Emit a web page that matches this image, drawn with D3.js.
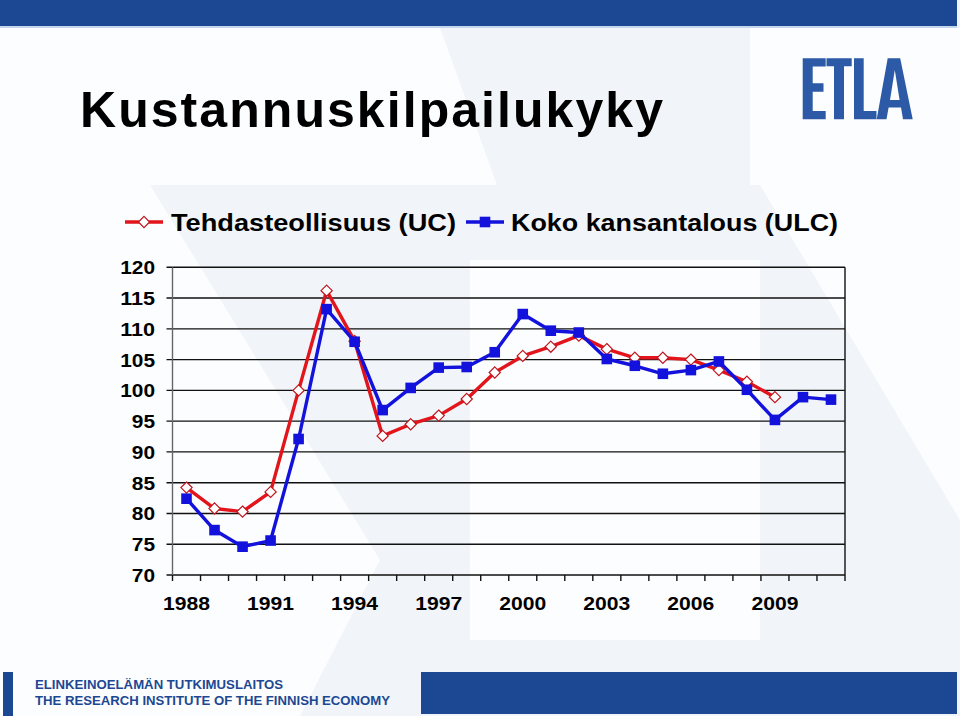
<!DOCTYPE html>
<html>
<head>
<meta charset="utf-8">
<script src="https://cdn.jsdelivr.net/npm/d3@7"></script>
<style>
  html, body { margin: 0; padding: 0; background: #ffffff; }
  svg { display: block; }
  text { font-family: "Liberation Sans", Arial, sans-serif; }
</style>
</head>
<body>
<svg id="chart" width="960" height="716"></svg>
<script>
// ---------- data ----------
const years = ["1988","1989","1990","1991","1992","1993","1994","1995","1996","1997","1998","1999",
               "2000","2001","2002","2003","2004","2005","2006","2007","2008","2009","2010","2011"];
const tehdasteollisuus = [84.2, 80.8, 80.3, 83.5, 100.0, 116.2, 108.0, 92.6, 94.5, 95.9, 98.6, 102.9,
                          105.6, 107.1, 108.9, 106.7, 105.3, 105.3, 105.0, 103.3, 101.4, 98.9, null, null];
const kokoKansantalous = [82.4, 77.3, 74.6, 75.6, 92.1, 113.2, 107.9, 96.8, 100.4, 103.7, 103.8, 106.2,
                          112.4, 109.7, 109.4, 105.1, 104.0, 102.7, 103.3, 104.7, 100.1, 95.2, 98.9, 98.5];
const xTickLabels = ["1988","1991","1994","1997","2000","2003","2006","2009"];
const yTickValues = [70, 75, 80, 85, 90, 95, 100, 105, 110, 115, 120];
const seriesNames = ["Tehdasteollisuus (UC)", "Koko kansantalous (ULC)"];
const titleText = "Kustannuskilpailukyky";
const footerLines = ["ELINKEINOELÄMÄN TUTKIMUSLAITOS", "THE RESEARCH INSTITUTE OF THE FINNISH ECONOMY"];

// ---------- styles ----------
const RED = "#e2141c", RED_DARK = "#c0141c", BLUE = "#1212dc", BANNER = "#1c4893", LOGO = "#2c5aa6";

const svg = d3.select("#chart");

// ---------- background ----------
svg.append("rect").attr("width", 960).attr("height", 716).attr("fill", "#f1f4f8");
const bgWhite = [
  [[0,28],[440,28],[497,185],[0,185]],
  [[750,28],[960,28],[960,185],[750,185]],
  [[0,185],[150,185],[380,560],[300,716],[0,716],[0,420],[0,185]],
  [[0,420],[0,716],[170,716]],
  [[470,260],[760,260],[760,640],[470,640]],
  [[960,185],[960,520],[760,185]]
];
svg.selectAll("polygon.bg").data(bgWhite).join("polygon")
  .attr("class", "bg")
  .attr("points", d => d.map(p => p.join(",")).join(" "))
  .attr("fill", "#fcfdfe");

// top banner
svg.append("rect").attr("x", 0).attr("y", 0).attr("width", 957).attr("height", 26).attr("fill", BANNER);
svg.append("rect").attr("x", 0).attr("y", 26).attr("width", 957).attr("height", 2).attr("fill", "#c4d6ee");

// ---------- title ----------
svg.append("text")
  .attr("x", 80).attr("y", 127)
  .attr("font-size", 50).attr("font-weight", "bold").attr("fill", "#000")
  .attr("textLength", 583).attr("lengthAdjust", "spacing")
  .text(titleText);

// ---------- ETLA logo ----------
const logo = svg.append("g").attr("fill", LOGO);
// E
logo.append("path").attr("d",
  "M802.7,58.3 H825.7 V66.5 H812.7 V83.3 H823.5 V91.7 H812.7 V111 H825.7 V119.3 H802.7 Z");
// T
logo.append("path").attr("d",
  "M826.5,58.3 H851.7 V66.3 H844 V119.3 H834 V66.3 H826.5 Z");
// L
logo.append("path").attr("d",
  "M854,58.3 H863.7 V111 H876.5 V119.3 H854 Z");
// A
logo.append("path").attr("fill-rule", "evenodd").attr("d",
  "M876.7,119.3 L887.7,58.3 H900.2 L912.7,119.3 H903 L901,107.5 H888.6 L886.5,119.3 Z " +
  "M890,100 H899.6 L894.8,70 Z");

// ---------- scales ----------
const margin = { left: 172.5, right: 845, top: 267.3, bottom: 575 };
const x = d3.scaleBand().domain(years).range([margin.left, margin.right]).paddingInner(0).paddingOuter(0);
const y = d3.scaleLinear().domain([70, 120]).range([margin.bottom, margin.top]);
const cx = d => x(d) + x.bandwidth() / 2;

// ---------- grid & axes ----------
const plot = svg.append("g");
plot.selectAll("line.grid").data(yTickValues).join("line")
  .attr("class", "grid")
  .attr("x1", margin.left - 6).attr("x2", margin.right)
  .attr("y1", d => y(d)).attr("y2", d => y(d))
  .attr("stroke", "#111").attr("stroke-width", 1.4);
// left axis
plot.append("line")
  .attr("x1", margin.left).attr("x2", margin.left)
  .attr("y1", margin.top).attr("y2", margin.bottom)
  .attr("stroke", "#666").attr("stroke-width", 1.4);
// right border
plot.append("line")
  .attr("x1", margin.right).attr("x2", margin.right)
  .attr("y1", margin.top).attr("y2", margin.bottom + 6)
  .attr("stroke", "#111").attr("stroke-width", 1.4);
// x tick marks at category boundaries
const boundaries = years.map(d => x(d));
plot.selectAll("line.xtick").data(boundaries).join("line")
  .attr("class", "xtick")
  .attr("x1", d => d).attr("x2", d => d)
  .attr("y1", margin.bottom).attr("y2", margin.bottom + 6)
  .attr("stroke", "#111").attr("stroke-width", 1.4);

// y labels
plot.selectAll("text.ylab").data(yTickValues).join("text")
  .attr("class", "ylab")
  .attr("x", 155).attr("y", d => y(d) + 7)
  .attr("text-anchor", "end")
  .attr("font-size", 19).attr("font-weight", "bold").attr("fill", "#000")
  .attr("textLength", d => String(d).length * 11.6).attr("lengthAdjust", "spacingAndGlyphs")
  .text(d => d);

// x labels
plot.selectAll("text.xlab").data(xTickLabels).join("text")
  .attr("class", "xlab")
  .attr("x", d => cx(d)).attr("y", 610)
  .attr("text-anchor", "middle")
  .attr("font-size", 19).attr("font-weight", "bold").attr("fill", "#000")
  .attr("textLength", 47).attr("lengthAdjust", "spacingAndGlyphs")
  .text(d => d);

// ---------- series ----------
const redData = years.map((yr, i) => ({ yr, v: tehdasteollisuus[i] })).filter(d => d.v != null);
const blueData = years.map((yr, i) => ({ yr, v: kokoKansantalous[i] })).filter(d => d.v != null);
const line = d3.line().x(d => cx(d.yr)).y(d => y(d.v));

const diamond = (px, py, r) => `M${px},${py - r} L${px + r},${py} L${px},${py + r} L${px - r},${py} Z`;

plot.append("path").datum(redData)
  .attr("d", line).attr("fill", "none").attr("stroke", RED)
  .attr("stroke-width", 3.4).attr("stroke-linejoin", "round");
plot.selectAll("path.rmark").data(redData).join("path")
  .attr("class", "rmark")
  .attr("d", d => diamond(cx(d.yr), y(d.v), 5.6))
  .attr("fill", "#fff").attr("stroke", RED_DARK).attr("stroke-width", 1.2);

plot.append("path").datum(blueData)
  .attr("d", line).attr("fill", "none").attr("stroke", BLUE)
  .attr("stroke-width", 3.4).attr("stroke-linejoin", "round");
plot.selectAll("rect.bmark").data(blueData).join("rect")
  .attr("class", "bmark")
  .attr("x", d => cx(d.yr) - 5.3).attr("y", d => y(d.v) - 5.3)
  .attr("width", 10.6).attr("height", 10.6)
  .attr("fill", BLUE);

// ---------- legend ----------
const legend = svg.append("g");
const lgY = 222;
// red entry
legend.append("line").attr("x1", 125).attr("x2", 163).attr("y1", lgY).attr("y2", lgY)
  .attr("stroke", RED).attr("stroke-width", 3.4);
legend.append("path").attr("d", diamond(144, lgY, 5.6))
  .attr("fill", "#fff").attr("stroke", RED_DARK).attr("stroke-width", 1.2);
legend.append("text").attr("x", 171).attr("y", 231)
  .attr("font-size", 23).attr("font-weight", "bold").attr("fill", "#000")
  .attr("textLength", 285).attr("lengthAdjust", "spacingAndGlyphs")
  .text(seriesNames[0]);
// blue entry
legend.append("line").attr("x1", 466).attr("x2", 504).attr("y1", lgY).attr("y2", lgY)
  .attr("stroke", BLUE).attr("stroke-width", 3.4);
legend.append("rect").attr("x", 485 - 5.3).attr("y", lgY - 5.3).attr("width", 10.6).attr("height", 10.6)
  .attr("fill", BLUE);
legend.append("text").attr("x", 511).attr("y", 231)
  .attr("font-size", 23).attr("font-weight", "bold").attr("fill", "#000")
  .attr("textLength", 327).attr("lengthAdjust", "spacingAndGlyphs")
  .text(seriesNames[1]);

// ---------- footer ----------
svg.append("rect").attr("x", 3).attr("y", 672).attr("width", 10).attr("height", 44).attr("fill", BANNER);
svg.append("rect").attr("x", 421).attr("y", 672).attr("width", 536).attr("height", 42).attr("fill", BANNER);
svg.selectAll("text.foot").data(footerLines).join("text")
  .attr("class", "foot")
  .attr("x", 35).attr("y", (d, i) => 689 + i * 16)
  .attr("font-size", 13.5).attr("font-weight", "bold").attr("fill", BANNER)
  .attr("textLength", (d, i) => i === 0 ? 248 : 355).attr("lengthAdjust", "spacingAndGlyphs")
  .text(d => d);
</script>
</body>
</html>
